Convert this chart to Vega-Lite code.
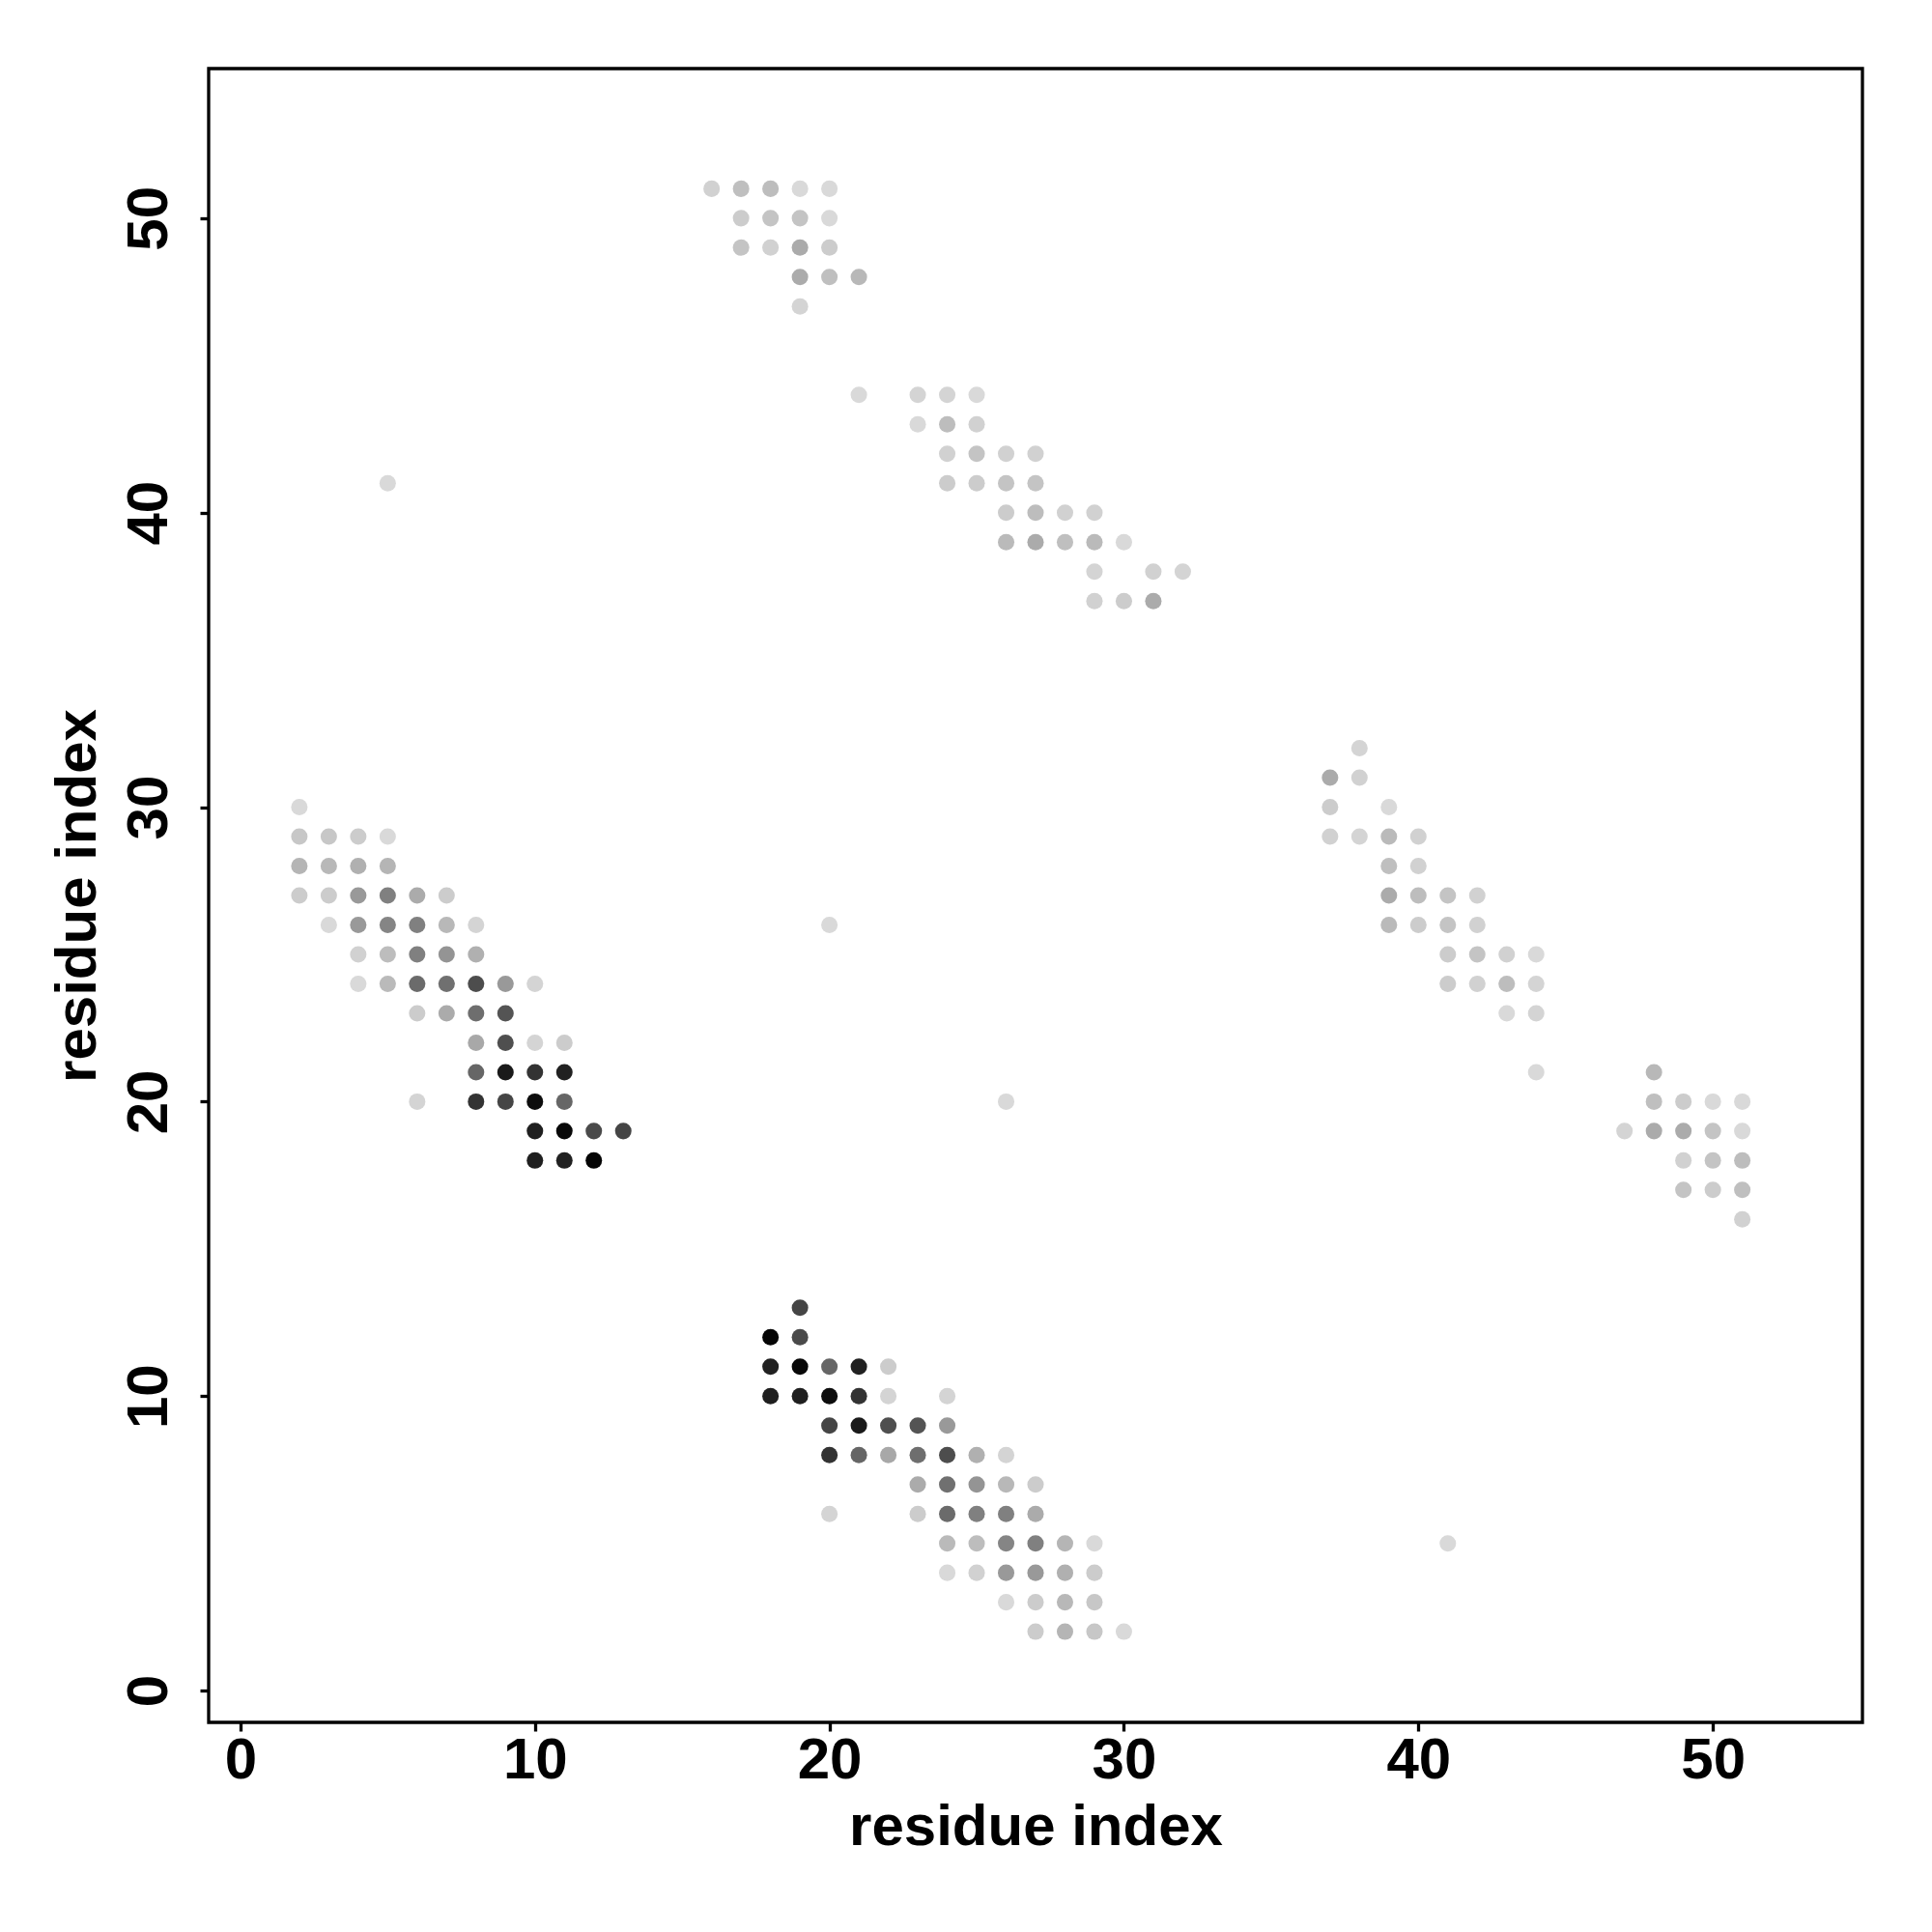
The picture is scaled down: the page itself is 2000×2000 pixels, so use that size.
{
  "$schema": "https://vega.github.io/schema/vega-lite/v6.json",
  "autosize": "none",
  "width": 1712,
  "height": 1712,
  "padding": {"left": 216, "top": 71, "right": 72, "bottom": 217},
  "background": "white",
  "config": {
    "view": {"stroke": "black", "strokeWidth": 3.3},
    "font": "Liberation Sans"
  },
  "data": {"values": [
    {"i":2,"j":30,"p":0.15},
    {"i":2,"j":29,"p":0.22},{"i":3,"j":29,"p":0.22},{"i":4,"j":29,"p":0.2},{"i":5,"j":29,"p":0.15},
    {"i":2,"j":28,"p":0.29},{"i":3,"j":28,"p":0.28},{"i":4,"j":28,"p":0.31},{"i":5,"j":28,"p":0.29},
    {"i":2,"j":27,"p":0.2},{"i":3,"j":27,"p":0.2},{"i":4,"j":27,"p":0.4},{"i":5,"j":27,"p":0.5},{"i":6,"j":27,"p":0.33},{"i":7,"j":27,"p":0.2},
    {"i":3,"j":26,"p":0.15},{"i":4,"j":26,"p":0.4},{"i":5,"j":26,"p":0.48},{"i":6,"j":26,"p":0.5},{"i":7,"j":26,"p":0.28},{"i":8,"j":26,"p":0.17},
    {"i":4,"j":25,"p":0.18},{"i":5,"j":25,"p":0.26},{"i":6,"j":25,"p":0.5},{"i":7,"j":25,"p":0.42},{"i":8,"j":25,"p":0.31},
    {"i":4,"j":24,"p":0.15},{"i":5,"j":24,"p":0.27},{"i":6,"j":24,"p":0.58},{"i":7,"j":24,"p":0.56},{"i":8,"j":24,"p":0.7},{"i":9,"j":24,"p":0.4},{"i":10,"j":24,"p":0.17},
    {"i":6,"j":23,"p":0.2},{"i":7,"j":23,"p":0.33},{"i":8,"j":23,"p":0.57},{"i":9,"j":23,"p":0.67},
    {"i":8,"j":22,"p":0.34},{"i":9,"j":22,"p":0.69},{"i":10,"j":22,"p":0.17},{"i":11,"j":22,"p":0.2},
    {"i":8,"j":21,"p":0.6},{"i":9,"j":21,"p":0.9},{"i":10,"j":21,"p":0.8},{"i":11,"j":21,"p":0.87},
    {"i":6,"j":20,"p":0.17},{"i":8,"j":20,"p":0.8},{"i":9,"j":20,"p":0.73},{"i":10,"j":20,"p":0.95},{"i":11,"j":20,"p":0.6},
    {"i":10,"j":19,"p":0.88},{"i":11,"j":19,"p":0.97},{"i":12,"j":19,"p":0.71},{"i":13,"j":19,"p":0.73},
    {"i":10,"j":18,"p":0.88},{"i":11,"j":18,"p":0.87},{"i":12,"j":18,"p":0.98},

    {"i":30,"j":2,"p":0.15},
    {"i":29,"j":2,"p":0.22},{"i":29,"j":3,"p":0.22},{"i":29,"j":4,"p":0.2},{"i":29,"j":5,"p":0.15},
    {"i":28,"j":2,"p":0.29},{"i":28,"j":3,"p":0.28},{"i":28,"j":4,"p":0.31},{"i":28,"j":5,"p":0.29},
    {"i":27,"j":2,"p":0.2},{"i":27,"j":3,"p":0.2},{"i":27,"j":4,"p":0.4},{"i":27,"j":5,"p":0.5},{"i":27,"j":6,"p":0.33},{"i":27,"j":7,"p":0.2},
    {"i":26,"j":3,"p":0.15},{"i":26,"j":4,"p":0.4},{"i":26,"j":5,"p":0.48},{"i":26,"j":6,"p":0.5},{"i":26,"j":7,"p":0.28},{"i":26,"j":8,"p":0.17},
    {"i":25,"j":4,"p":0.18},{"i":25,"j":5,"p":0.26},{"i":25,"j":6,"p":0.5},{"i":25,"j":7,"p":0.42},{"i":25,"j":8,"p":0.31},
    {"i":24,"j":4,"p":0.15},{"i":24,"j":5,"p":0.27},{"i":24,"j":6,"p":0.58},{"i":24,"j":7,"p":0.56},{"i":24,"j":8,"p":0.7},{"i":24,"j":9,"p":0.4},{"i":24,"j":10,"p":0.17},
    {"i":23,"j":6,"p":0.2},{"i":23,"j":7,"p":0.33},{"i":23,"j":8,"p":0.57},{"i":23,"j":9,"p":0.67},
    {"i":22,"j":8,"p":0.34},{"i":22,"j":9,"p":0.69},{"i":22,"j":10,"p":0.17},{"i":22,"j":11,"p":0.2},
    {"i":21,"j":8,"p":0.6},{"i":21,"j":9,"p":0.9},{"i":21,"j":10,"p":0.8},{"i":21,"j":11,"p":0.87},
    {"i":20,"j":6,"p":0.17},{"i":20,"j":8,"p":0.8},{"i":20,"j":9,"p":0.73},{"i":20,"j":10,"p":0.95},{"i":20,"j":11,"p":0.6},
    {"i":19,"j":10,"p":0.88},{"i":19,"j":11,"p":0.97},{"i":19,"j":12,"p":0.71},{"i":19,"j":13,"p":0.73},
    {"i":18,"j":10,"p":0.88},{"i":18,"j":11,"p":0.87},{"i":18,"j":12,"p":0.98},

    {"i":16,"j":51,"p":0.18},{"i":17,"j":51,"p":0.25},{"i":18,"j":51,"p":0.26},{"i":19,"j":51,"p":0.15},{"i":20,"j":51,"p":0.15},
    {"i":17,"j":50,"p":0.2},{"i":18,"j":50,"p":0.23},{"i":19,"j":50,"p":0.23},{"i":20,"j":50,"p":0.15},
    {"i":17,"j":49,"p":0.23},{"i":18,"j":49,"p":0.18},{"i":19,"j":49,"p":0.33},{"i":20,"j":49,"p":0.2},
    {"i":19,"j":48,"p":0.33},{"i":20,"j":48,"p":0.25},{"i":21,"j":48,"p":0.28},
    {"i":19,"j":47,"p":0.17},

    {"i":51,"j":16,"p":0.18},{"i":51,"j":17,"p":0.25},{"i":51,"j":18,"p":0.26},{"i":51,"j":19,"p":0.15},{"i":51,"j":20,"p":0.15},
    {"i":50,"j":17,"p":0.2},{"i":50,"j":18,"p":0.23},{"i":50,"j":19,"p":0.23},{"i":50,"j":20,"p":0.15},
    {"i":49,"j":17,"p":0.23},{"i":49,"j":18,"p":0.18},{"i":49,"j":19,"p":0.33},{"i":49,"j":20,"p":0.2},
    {"i":48,"j":19,"p":0.33},{"i":48,"j":20,"p":0.25},{"i":48,"j":21,"p":0.28},
    {"i":47,"j":19,"p":0.17},

    {"i":21,"j":44,"p":0.15},{"i":23,"j":44,"p":0.17},{"i":24,"j":44,"p":0.17},{"i":25,"j":44,"p":0.15},
    {"i":23,"j":43,"p":0.15},{"i":24,"j":43,"p":0.26},{"i":25,"j":43,"p":0.18},
    {"i":24,"j":42,"p":0.18},{"i":25,"j":42,"p":0.23},{"i":26,"j":42,"p":0.18},{"i":27,"j":42,"p":0.18},
    {"i":24,"j":41,"p":0.2},{"i":25,"j":41,"p":0.2},{"i":26,"j":41,"p":0.23},{"i":27,"j":41,"p":0.23},
    {"i":26,"j":40,"p":0.2},{"i":27,"j":40,"p":0.26},{"i":28,"j":40,"p":0.18},{"i":29,"j":40,"p":0.18},
    {"i":26,"j":39,"p":0.27},{"i":27,"j":39,"p":0.33},{"i":28,"j":39,"p":0.25},{"i":29,"j":39,"p":0.27},{"i":30,"j":39,"p":0.15},
    {"i":29,"j":38,"p":0.17},{"i":31,"j":38,"p":0.18},{"i":32,"j":38,"p":0.17},
    {"i":29,"j":37,"p":0.18},{"i":30,"j":37,"p":0.2},{"i":31,"j":37,"p":0.33},

    {"i":44,"j":21,"p":0.15},{"i":44,"j":23,"p":0.17},{"i":44,"j":24,"p":0.17},{"i":44,"j":25,"p":0.15},
    {"i":43,"j":23,"p":0.15},{"i":43,"j":24,"p":0.26},{"i":43,"j":25,"p":0.18},
    {"i":42,"j":24,"p":0.18},{"i":42,"j":25,"p":0.23},{"i":42,"j":26,"p":0.18},{"i":42,"j":27,"p":0.18},
    {"i":41,"j":24,"p":0.2},{"i":41,"j":25,"p":0.2},{"i":41,"j":26,"p":0.23},{"i":41,"j":27,"p":0.23},
    {"i":40,"j":26,"p":0.2},{"i":40,"j":27,"p":0.26},{"i":40,"j":28,"p":0.18},{"i":40,"j":29,"p":0.18},
    {"i":39,"j":26,"p":0.27},{"i":39,"j":27,"p":0.33},{"i":39,"j":28,"p":0.25},{"i":39,"j":29,"p":0.27},{"i":39,"j":30,"p":0.15},
    {"i":38,"j":29,"p":0.17},{"i":38,"j":31,"p":0.18},{"i":38,"j":32,"p":0.17},
    {"i":37,"j":29,"p":0.18},{"i":37,"j":30,"p":0.2},{"i":37,"j":31,"p":0.33},

    {"i":5,"j":41,"p":0.15},{"i":41,"j":5,"p":0.15},{"i":20,"j":26,"p":0.15},{"i":26,"j":20,"p":0.15}
  ]},
  "mark": {"type": "circle", "size": 290, "opacity": 1, "strokeWidth": 0},
  "encoding": {
    "x": {
      "field": "i", "type": "quantitative",
      "scale": {"domain": [-1.08, 55.08], "nice": false, "zero": false},
      "axis": {
        "values": [0, 10, 20, 30, 40, 50],
        "grid": false, "domain": false,
        "ticks": true, "tickSize": 9, "tickWidth": 3.3, "tickColor": "black",
        "labelFont": "Liberation Sans", "labelFontSize": 60, "labelFontWeight": "bold",
        "labelColor": "black", "labelPadding": 1, "labelFlush": false, "labelOverlap": false,
        "title": "residue index",
        "titleFont": "Liberation Sans", "titleFontSize": 60, "titleFontWeight": "bold",
        "titleColor": "black", "titleBaseline": "alphabetic", "titleY": 126, "titleX": 856
      }
    },
    "y": {
      "field": "j", "type": "quantitative",
      "scale": {"domain": [-1.08, 55.08], "nice": false, "zero": false},
      "axis": {
        "values": [0, 10, 20, 30, 40, 50],
        "grid": false, "domain": false,
        "ticks": true, "tickSize": 9, "tickWidth": 3.3, "tickColor": "black",
        "labelFont": "Liberation Sans", "labelFontSize": 60, "labelFontWeight": "bold",
        "labelColor": "black", "labelAngle": 270, "labelAlign": "center", "labelBaseline": "alphabetic",
        "labelPadding": 35, "labelFlush": false, "labelOverlap": false,
        "title": "residue index",
        "titleFont": "Liberation Sans", "titleFontSize": 60, "titleFontWeight": "bold",
        "titleColor": "black", "titleAngle": 270, "titleAlign": "center", "titleBaseline": "alphabetic",
        "titleX": -118, "titleY": 856
      }
    },
    "color": {
      "field": "p", "type": "quantitative",
      "scale": {"domain": [0, 1], "range": ["#ffffff", "#000000"], "interpolate": "rgb"},
      "legend": null
    }
  }
}
